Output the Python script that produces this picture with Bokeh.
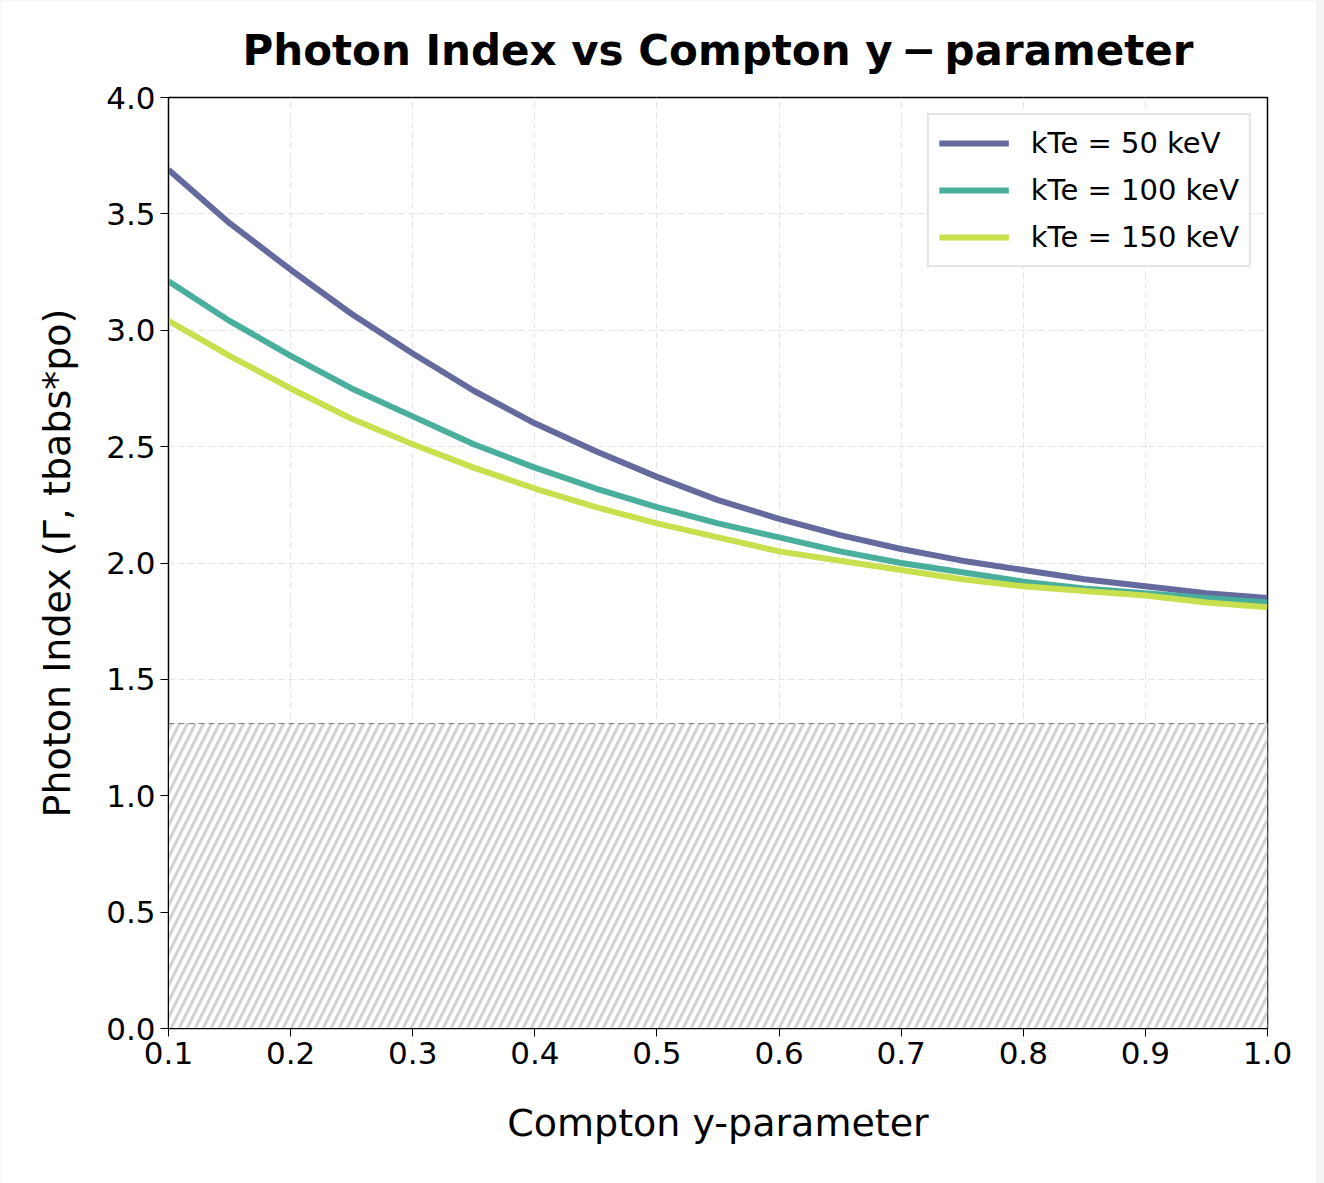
from bokeh.plotting import figure
from bokeh.models import Legend, LegendItem, FixedTicker, CustomJSTickFormatter
from bokeh.embed import file_html
from bokeh.resources import INLINE

y_param = [0.1, 0.15, 0.2, 0.25, 0.3, 0.35, 0.4, 0.45, 0.5, 0.55, 0.6, 0.65, 0.7, 0.75, 0.8, 0.85, 0.9, 0.95, 1.0]
gamma_50 = [3.69, 3.46, 3.26, 3.07, 2.90, 2.74, 2.60, 2.48, 2.37, 2.27, 2.19, 2.12, 2.06, 2.01, 1.97, 1.93, 1.90, 1.87, 1.85]
gamma_100 = [3.21, 3.04, 2.89, 2.75, 2.63, 2.51, 2.41, 2.32, 2.24, 2.17, 2.11, 2.05, 2.00, 1.96, 1.92, 1.89, 1.87, 1.85, 1.83]
gamma_150 = [3.04, 2.89, 2.75, 2.62, 2.51, 2.41, 2.32, 2.24, 2.17, 2.11, 2.05, 2.01, 1.97, 1.93, 1.90, 1.88, 1.86, 1.83, 1.81]
labels = ["kTe = 50 keV", "kTe = 100 keV", "kTe = 150 keV"]
colors = ["#646a9e", "#4aae9c", "#c8e04e"]
hard_limit = 1.31

p = figure(width=1316, height=1183, x_range=(0.1, 1.0), y_range=(0, 4.0),
           output_backend="svg", toolbar_location=None,
           title="Photon Index vs Compton y\u2009\u2212\u2009parameter",
           min_border_left=168, min_border_right=49, min_border_top=97, min_border_bottom=155)
p.title.align = "center"
p.title.text_font = "DejaVu Sans"
p.title.text_font_size = "42px"
p.title.text_font_style = "bold"
p.title.text_color = "black"
p.title.standoff = 46

p.quad(left=[0.1], right=[1.0], bottom=[0], top=[hard_limit], fill_color="white",
       line_color=None, hatch_pattern="right_diagonal_line", hatch_color="#d2d2d2",
       hatch_scale=16, hatch_weight=3)
p.line([0.1, 1.0], [hard_limit, hard_limit], line_color="#777777", line_dash="6 4", line_width=1)

items = []
for ys, lab, c in zip([gamma_50, gamma_100, gamma_150], labels, colors):
    r = p.line(y_param, ys, line_color=c, line_width=6)
    items.append(LegendItem(label=lab, renderers=[r]))

leg = Legend(items=items, location="top_right", label_text_font="DejaVu Sans",
             label_text_font_size="29px", border_line_color="#cccccc", border_line_width=2,
             glyph_width=70, glyph_height=36, label_standoff=22, spacing=11, padding=10, margin=16,
             label_text_color="black")
p.add_layout(leg)

for ax in (p.xaxis, p.yaxis):
    ax.axis_label_text_font = "DejaVu Sans"
    ax.axis_label_text_font_size = "38px"
    ax.axis_label_text_font_style = "normal"
    ax.axis_label_text_color = "black"
    ax.major_label_text_font = "DejaVu Sans"
    ax.major_label_text_font_size = "31px"
    ax.major_label_text_color = "black"
    ax.minor_tick_line_color = None
    ax.major_tick_out = 8
    ax.major_tick_in = 0
    ax.axis_line_color = "black"
p.xaxis.axis_label = "Compton y-parameter"
p.xaxis.axis_label_standoff = 34
p.yaxis.axis_label = "Photon Index (\u0393, tbabs*po)"
p.yaxis.axis_label_standoff = 24
p.xaxis.ticker = FixedTicker(ticks=[0.1,0.2,0.3,0.4,0.5,0.6,0.7,0.8,0.9,1.0])
p.yaxis.ticker = FixedTicker(ticks=[0,0.5,1,1.5,2,2.5,3,3.5,4])
p.xaxis.formatter = CustomJSTickFormatter(code="return tick.toFixed(1)")
p.yaxis.formatter = CustomJSTickFormatter(code="return tick.toFixed(1)")
p.grid.grid_line_color = "#e3e3e3"
p.grid.grid_line_dash = "6 4"
p.outline_line_color = "black"
p.outline_line_width = 1.5

html = file_html(p, INLINE).replace("<body>", '<body style="background:#f4f4f4">')
open("out.html", "w").write(html)
